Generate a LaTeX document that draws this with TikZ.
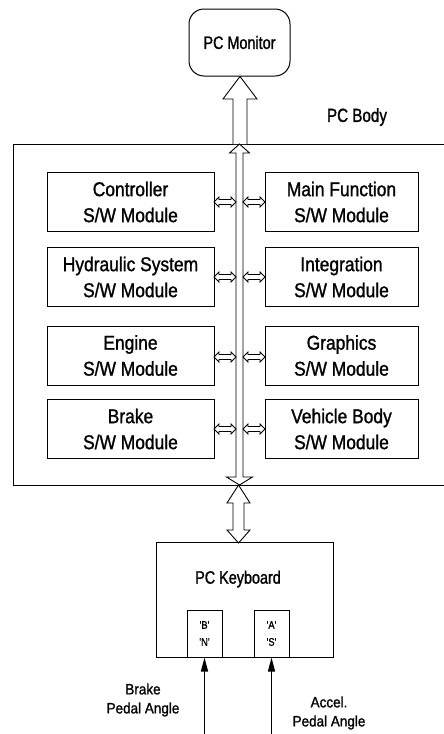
\documentclass[tikz,border=0pt]{standalone}
\usepackage{fontspec}
\setmainfont{Liberation Sans}
\newfontfamily\modfont[FakeStretch=0.87,FakeBold=1.2]{Liberation Sans}
\newfontfamily\pcfont[FakeStretch=0.8,FakeBold=1.2]{Liberation Sans}
\newfontfamily\pedfont[FakeStretch=0.9,FakeBold=1.2]{Liberation Sans}
\newfontfamily\keyfont[FakeStretch=0.85,FakeBold=1]{Liberation Sans}
\usetikzlibrary{arrows.meta,calc}
\newcommand\lsmallarrow[3]{% x1 x2 y : hollow double-headed horizontal arrow
  \draw[hollowarrow] (#1,#3) -- (#1+5,#3-5) -- (#1+5,#3-2.5) -- (#2-5,#3-2.5) -- (#2-5,#3-5)
    -- (#2,#3) -- (#2-5,#3+5) -- (#2-5,#3+2.5) -- (#1+5,#3+2.5) -- (#1+5,#3+5) -- cycle;}
\begin{document}
\begin{tikzpicture}[x=1pt,y=-1pt,line width=1pt,
  module/.style={draw, inner sep=0pt, minimum height=59pt, align=center,
    font=\modfont\fontsize{20}{26}\selectfont},
  lmod/.style={module, minimum width=167pt},
  rmod/.style={module, minimum width=153pt},
  hollowarrow/.style={draw, fill=white, line width=0.9pt, line join=miter},
  keybox/.style={draw, inner sep=0pt, minimum width=35pt, minimum height=47pt, align=center,
    font=\keyfont\fontsize{11}{17}\selectfont},
  pedal/.style={align=center, inner sep=0pt, font=\pedfont\fontsize{15}{19}\selectfont},
  pedarrow/.style={line width=1.4pt, -{Triangle[length=14pt,width=7pt]}}]
\useasboundingbox (0,0) rectangle (444,734);

% PC Monitor
\node[draw, rounded corners=15pt, minimum width=101pt, minimum height=67pt, inner sep=0pt,
  font=\pcfont\fontsize{18}{22}\selectfont] (mon) at (239.5,42.5) {PC Monitor};

% PC Body frame (right side runs off the picture)
\coordinate (bodyTL) at (13,144);
\coordinate (bodyBL) at (13,485);
\draw (446,144) -- (bodyTL) -- (bodyBL) -- (446,485);
\node[font=\pcfont\fontsize{19}{22}\selectfont, inner sep=0pt] (bodylabel) at (357,117) {PC Body};

% Monitor <- body arrow
\coordinate (bt) at (240,144);
\draw[hollowarrow] (233,144) -- (233,99) -- (223,99) -- (mon.south -| bt) -- (257,99) -- (247,99) -- (247,144);

% Bus
\draw[hollowarrow] (236,477) -- (236,153) -- (229.5,153) -- (239.5,144) -- (249.5,153) -- (243,153)
  -- (243,477) -- (252.5,477) -- (239.5,485) -- (226.5,477) -- cycle;

% Modules
\node[lmod] (ctrl)  at (130.5,202) {Controller\\S/W Module};
\node[lmod] (hyd)   at (130.5,277) {Hydraulic System\\S/W Module};
\node[lmod] (eng)   at (130.5,355.5) {Engine\\S/W Module};
\node[lmod] (brk)   at (130.5,429) {Brake\\S/W Module};
\node[rmod] (mainf) at (341.5,202) {Main Function\\S/W Module};
\node[rmod] (integ) at (341.5,277) {Integration\\S/W Module};
\node[rmod] (graph) at (341.5,355.5) {Graphics\\S/W Module};
\node[rmod] (vbody) at (341.5,429) {Vehicle Body\\S/W Module};

% module <-> bus arrows
\lsmallarrow{214}{236}{202}
\lsmallarrow{214}{236}{277}
\lsmallarrow{214}{236}{357}
\lsmallarrow{214}{236}{429}
\lsmallarrow{243}{265}{202}
\lsmallarrow{243}{265}{277}
\lsmallarrow{243}{265}{357}
\lsmallarrow{243}{265}{429}

% PC Keyboard
\node[draw, inner sep=0pt, minimum width=177pt, minimum height=115pt] (kb) at (244.5,599.5) {};
\node[font=\pcfont\fontsize{18}{22}\selectfont, inner sep=0pt] (kblabel) at (238,579) {PC Keyboard};
\node[keybox] (kbB) at (204.5,633.5) {'B'\\'N'};
\node[keybox] (kbA) at (271.5,633.5) {'A'\\'S'};

% body <-> keyboard arrow
\draw[hollowarrow] (238.5,485) -- (250,503) -- (244,503) -- (244,530) -- (250,530) -- (238.5,543)
  -- (227,530) -- (233,530) -- (233,503) -- (227,503) -- cycle;

% pedal inputs
\coordinate (pB) at (204.5,734);
\coordinate (pA) at (271.5,734);
\draw[pedarrow] (pB) -- (kbB.south);
\draw[pedarrow] (pA) -- (kbA.south);
\node[pedal] (brlabel) at (143,700) {Brake\\Pedal Angle};
\node[pedal] (aclabel) at (329,713) {Accel.\\Pedal Angle};
\end{tikzpicture}
\end{document}
